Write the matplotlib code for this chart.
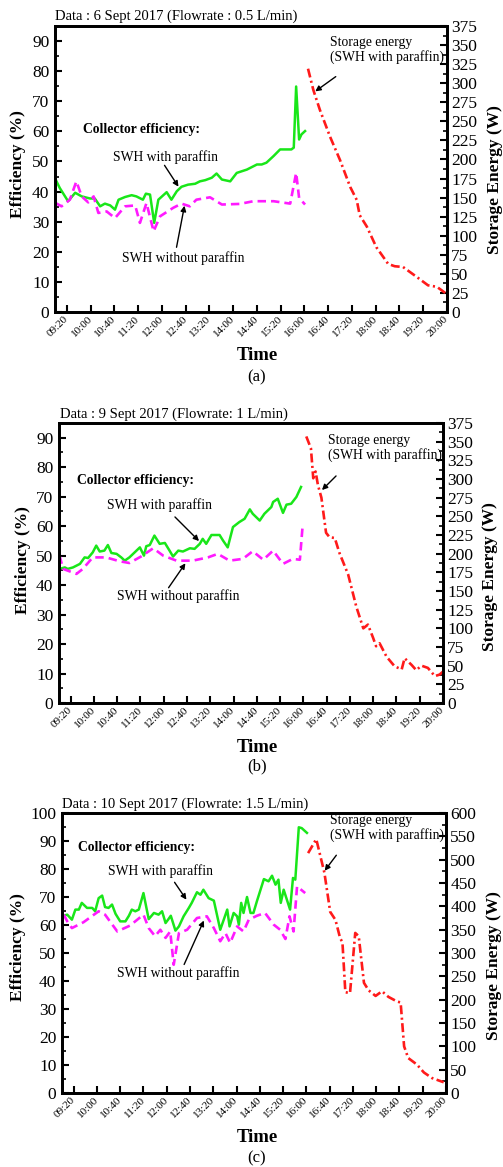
import matplotlib
matplotlib.use("Agg")
import matplotlib.pyplot as plt
from matplotlib.ticker import MultipleLocator

plt.rcParams['font.family'] = ['Liberation Serif', 'DejaVu Serif']
plt.rcParams['mathtext.fontset'] = 'stix'

W, H = 503, 1167

# ---------------- data ----------------
tick_labels = ["09:20", "10:00", "10:40", "11:20", "12:00", "12:40", "13:20", "14:00",
               "14:40", "15:20", "16:00", "16:40", "17:20", "18:00", "18:40", "19:20", "20:00"]

# Panel (a) 6 Sept 2017, 0.5 L/min
a_with_t = ["09:01", "09:08", "09:22", "09:34", "09:45", "09:59", "10:07", "10:16", "10:24", "10:33",
            "10:41", "10:47", "10:58", "11:09", "11:17", "11:28", "11:33", "11:40", "11:47", "11:54",
            "12:08", "12:16", "12:25", "12:33", "12:44", "12:56", "13:04", "13:13", "13:24", "13:32",
            "13:41", "13:55", "14:06", "14:23", "14:40", "14:48", "14:56", "15:08", "15:19", "15:38",
            "15:42", "15:46", "15:51", "15:55", "16:01"]
a_with_v = [44.0, 41.2, 36.8, 39.6, 38.4, 37.7, 37.7, 35.1, 36.0, 35.4,
            34.0, 37.3, 38.2, 38.8, 38.4, 37.3, 39.3, 39.0, 29.6, 37.3,
            39.8, 37.3, 40.1, 41.6, 42.3, 42.6, 43.4, 43.8, 44.6, 46.0,
            44.0, 43.4, 46.2, 47.3, 49.0, 49.0, 49.6, 51.8, 54.0, 54.0,
            54.6, 74.9, 57.3, 59.0, 60.1]
a_without_t = ["09:01", "09:11", "09:25", "09:36", "09:45", "09:56", "10:05", "10:13", "10:27", "10:41",
               "10:58", "11:15", "11:23", "11:34", "11:46", "11:57", "12:19", "12:33", "12:47", "12:58",
               "13:21", "13:41", "14:11", "14:34", "15:08", "15:36", "15:46", "15:51", "16:01"]
a_without_v = [36.2, 35.1, 37.3, 43.4, 38.4, 36.4, 38.4, 32.9, 33.4, 31.2,
               35.1, 35.4, 29.6, 36.2, 26.8, 31.8, 34.6, 36.0, 35.1, 37.3,
               38.1, 35.7, 35.9, 36.8, 36.8, 36.0, 46.2, 37.9, 35.7]
a_store_t = ["16:06", "16:15", "16:26", "16:43", "17:00", "17:17", "17:28", "17:33", "17:45", "18:01",
             "18:21", "18:32", "18:46", "19:09", "19:28", "19:43", "19:57"]
a_store_v = [319, 291, 265, 230, 199, 164, 147, 127, 112, 85, 63, 60, 59, 46, 35, 33, 25]

# Panel (b) 9 Sept 2017, 1 L/min
b_with_t = ["09:01", "09:10", "09:15", "09:24", "09:36", "09:44", "09:50", "09:58", "10:04", "10:10",
            "10:18", "10:24", "10:30", "10:39", "10:47", "10:53", "11:01", "11:10", "11:19", "11:26",
            "11:30", "11:36", "11:44", "11:53", "12:02", "12:10", "12:16", "12:25", "12:33", "12:45",
            "12:53", "13:02", "13:07", "13:13", "13:22", "13:36", "13:42", "13:50", "13:59", "14:10",
            "14:19", "14:28", "14:33", "14:45", "14:53", "15:05", "15:08", "15:16", "15:25", "15:31",
            "15:39", "15:48", "15:56"]
b_with_v = [45.5, 46.0, 45.5, 46.0, 47.2, 49.4, 49.2, 51.1, 53.4, 51.4,
            51.7, 53.6, 50.9, 50.6, 49.4, 48.3, 49.4, 51.1, 52.8, 50.0,
            53.2, 53.6, 56.8, 54.0, 54.3, 51.7, 49.7, 51.7, 51.4, 52.5,
            52.3, 54.0, 55.7, 54.0, 57.0, 57.0, 55.1, 52.8, 59.7, 61.4,
            62.5, 65.7, 64.2, 61.9, 64.2, 66.5, 68.2, 69.3, 64.5, 67.3,
            67.6, 69.9, 73.3]
b_without_t = ["09:01", "09:07", "09:30", "09:41", "09:58", "10:21", "10:44", "11:01", "11:21", "11:42",
               "11:59", "12:22", "12:50", "13:16", "13:33", "13:53", "14:16", "14:33", "14:51", "15:08",
               "15:25", "15:42", "15:54", "15:59"]
b_without_v = [50.0, 45.5, 43.8, 45.5, 49.4, 49.4, 48.1, 47.5, 49.7, 52.5,
               50.0, 48.3, 48.3, 49.4, 50.6, 48.3, 48.9, 51.5, 48.6, 51.7,
               47.2, 48.9, 48.6, 60.8]
b_store_t = ["16:05", "16:13", "16:17", "16:21", "16:25", "16:31", "16:39", "16:45", "16:54", "17:02",
             "17:17", "17:31", "17:43", "17:51", "18:00", "18:05", "18:11", "18:23", "18:37", "18:49",
             "18:54", "19:06", "19:14", "19:23", "19:34", "19:46", "19:54", "20:00"]
b_store_v = [357, 341, 301, 310, 292, 275, 228, 222, 221, 201,
             172, 129, 100, 105, 87, 76, 80, 62, 49, 45,
             60, 51, 44, 50, 47, 36, 38, 42]

# Panel (c) 10 Sept 2017, 1.5 L/min
c_with_t = ["09:03", "09:09", "09:17", "09:23", "09:29", "09:34", "09:43", "09:52", "09:57", "10:03",
            "10:09", "10:14", "10:20", "10:26", "10:32", "10:40", "10:49", "10:55", "11:00", "11:06",
            "11:12", "11:20", "11:29", "11:38", "11:46", "11:52", "11:58", "12:03", "12:07", "12:15",
            "12:21", "12:29", "12:38", "12:43", "12:52", "12:58", "13:03", "13:12", "13:21", "13:32",
            "13:44", "13:48", "13:55", "14:01", "14:04", "14:08", "14:12", "14:18", "14:24", "14:29",
            "14:35", "14:47", "14:55", "15:01", "15:07", "15:12", "15:16", "15:21", "15:32", "15:37",
            "15:41", "15:47", "15:52", "16:01"]
c_with_v = [63.3, 63.7, 61.9, 65.5, 65.5, 67.9, 66.1, 66.1, 64.9, 69.6,
            70.5, 66.4, 66.1, 67.3, 64.0, 61.3, 61.3, 63.3, 65.5, 64.9,
            65.5, 71.4, 62.1, 64.3, 63.7, 64.9, 60.7, 62.1, 63.3, 58.0,
            59.5, 63.1, 66.1, 67.9, 71.7, 70.8, 72.6, 69.6, 68.7, 58.3,
            65.5, 59.5, 64.3, 63.1, 60.1, 67.9, 64.3, 70.0, 64.3, 64.3,
            68.5, 76.4, 75.6, 77.6, 74.4, 76.2, 67.9, 72.6, 65.5, 76.8,
            76.2, 94.9, 94.6, 92.9]
c_without_t = ["09:03", "09:09", "09:17", "09:37", "10:03", "10:14", "10:35", "10:57", "11:20", "11:29",
               "11:40", "11:49", "11:58", "12:06", "12:12", "12:21", "12:35", "12:52", "13:09", "13:21",
               "13:32", "13:41", "13:49", "14:01", "14:12", "14:21", "14:35", "14:49", "15:04", "15:15",
               "15:24", "15:31", "15:38", "15:44", "15:58"]
c_without_v = [63.7, 61.3, 58.9, 61.0, 64.9, 63.7, 57.7, 59.8, 63.7, 58.9,
               56.0, 58.3, 55.4, 57.7, 45.8, 57.1, 58.3, 62.5, 63.1, 58.9,
               54.2, 57.1, 53.6, 59.5, 57.7, 61.9, 63.3, 64.3, 60.1, 58.3,
               55.0, 63.1, 57.7, 73.8, 71.4]
c_store_t = ["16:03", "16:17", "16:31", "16:41", "16:50", "16:58", "17:02", "17:07", "17:15", "17:24",
             "17:30", "17:39", "17:47", "17:59", "18:10", "18:21", "18:36", "18:42", "18:48", "18:55",
             "19:10", "19:22", "19:36", "19:56"]
c_store_v = [514, 544, 472, 388, 371, 332, 323, 216, 214, 343,
             336, 236, 220, 208, 218, 206, 196, 194, 100, 75,
             61, 44, 32, 23]

titles = ["Data : 6 Sept 2017 (Flowrate : 0.5 L/min)",
          "Data : 9 Sept 2017 (Flowrate: 1 L/min)",
          "Data : 10 Sept 2017 (Flowrate: 1.5 L/min)"]
panel_tags = ["(a)", "(b)", "(c)"]


def tmin(s):
    h, m = s.split(":")
    return int(h) * 60 + int(m)


def mins(lst):
    return [tmin(s) for s in lst]


GREEN = '#19e619'
MAGENTA = '#ff1aff'
RED = '#ff1a1a'

fig = plt.figure(figsize=(W / 100, H / 100), dpi=100)


def fx(x):
    return x / W


def fy(y):
    return 1 - y / H


panels = [
    dict(box=(55, 26, 447, 312), ylim=95, y2lim=375, y2maj=25, y2min=12.5,
         with_=(a_with_t, a_with_v), without=(a_without_t, a_without_v), store=(a_store_t, a_store_v),
         title_xy=(55, 16), effl=(18, 164), stol=(495, 180), time_y=356, tag_y=377,
         coll=(83, 130), with_txt=(113, 157), with_arr=((163, 163), (180, 189)),
         wo_txt=(122, 258), wo_arr=((176, 250), (185, 203)),
         st_txt=(330, 50), st_arr=((338, 75), (313, 93))),
    dict(box=(59, 423, 443, 703), ylim=95, y2lim=375, y2maj=25, y2min=12.5,
         with_=(b_with_t, b_with_v), without=(b_without_t, b_without_v), store=(b_store_t, b_store_v),
         title_xy=(60, 414), effl=(23, 560), stol=(490, 577), time_y=747, tag_y=766,
         coll=(77, 480), with_txt=(107, 505), with_arr=((173, 515), (201, 543)),
         wo_txt=(117, 596), wo_arr=((167, 590), (187, 561)),
         st_txt=(328, 448), st_arr=((338, 474), (320, 492))),
    dict(box=(62, 813, 446, 1093), ylim=100, y2lim=600, y2maj=50, y2min=25,
         with_=(c_with_t, c_with_v), without=(c_without_t, c_without_v), store=(c_store_t, c_store_v),
         title_xy=(62, 804), effl=(18, 947), stol=(494, 966), time_y=1137, tag_y=1158,
         coll=(78, 847), with_txt=(108, 871), with_arr=((173, 880), (188, 902)),
         wo_txt=(117, 973), wo_arr=((183, 967), (205, 918)),
         st_txt=(330, 828), st_arr=((338, 853), (323, 873))),
]

tick_pos = mins(tick_labels)
TS = 9.8

for i, p in enumerate(panels):
    l, t, r, b = p['box']
    ax = fig.add_axes([fx(l), fy(b), (r - l) / W, (b - t) / H])
    ax2 = ax.twinx()

    wt, wv = p['with_']
    ot, ov = p['without']
    st, sv = p['store']
    ax.plot(mins(wt), wv, color=GREEN, lw=1.8, solid_joinstyle='round')
    ax.plot(mins(ot), ov, color=MAGENTA, lw=1.9, linestyle=(0, (3.2, 1.9)))
    ax2.plot(mins(st), sv, color=RED, lw=1.9, linestyle=(0, (3.4, 1.3, 0.8, 1.3)))

    ax.set_xlim(540, 1200)
    ax.set_ylim(0, p['ylim'])
    ax2.set_ylim(0, p['y2lim'])

    ax.set_xticks(tick_pos)
    ax.set_xticklabels(tick_labels, rotation=45, ha='right', va='center',
                       rotation_mode='anchor', fontsize=8)
    ax.yaxis.set_major_locator(MultipleLocator(10))
    ax.yaxis.set_minor_locator(MultipleLocator(5))
    ax2.yaxis.set_major_locator(MultipleLocator(p['y2maj']))
    ax2.yaxis.set_minor_locator(MultipleLocator(p['y2min']))

    ax.tick_params(axis='both', which='major', direction='in', length=5, width=1.5,
                   labelsize=12.5, top=False, right=False)
    ax.tick_params(axis='x', labelsize=8, pad=4)
    ax.tick_params(axis='y', pad=4)
    ax.tick_params(axis='y', which='minor', direction='in', length=3, width=1.2)
    ax2.tick_params(axis='y', which='major', direction='in', length=5, width=1.5,
                    labelsize=12.5, pad=3)
    ax2.tick_params(axis='y', which='minor', direction='in', length=3, width=1.2)

    for a in (ax, ax2):
        for sp in a.spines.values():
            sp.set_linewidth(2)

    # titles and labels
    fig.text(fx(p['title_xy'][0]), fy(p['title_xy'][1]), titles[i], ha='left', va='center',
             fontsize=10.5)
    fig.text(fx(p['effl'][0]), fy(p['effl'][1]), "Efficiency (%)", rotation=90, ha='center',
             va='center', fontsize=12.5, fontweight='bold')
    fig.text(fx(p['stol'][0]), fy(p['stol'][1]), "Storage Energy (W)", rotation=90, ha='center',
             va='center', fontsize=12.5, fontweight='bold')
    fig.text(fx(257), fy(p['time_y']), "Time", ha='center', va='center', fontsize=13.5,
             fontweight='bold')
    fig.text(fx(257), fy(p['tag_y']), panel_tags[i], ha='center', va='center', fontsize=12)

    # annotations
    fig.text(fx(p['coll'][0]), fy(p['coll'][1]), "Collector efficiency:", ha='left', va='center',
             fontsize=TS, fontweight='bold')
    fig.text(fx(p['with_txt'][0]), fy(p['with_txt'][1]), "SWH with paraffin", ha='left',
             va='center', fontsize=TS)
    fig.text(fx(p['wo_txt'][0]), fy(p['wo_txt'][1]), "SWH without paraffin", ha='left',
             va='center', fontsize=TS)
    fig.text(fx(p['st_txt'][0]), fy(p['st_txt'][1]), "Storage energy\n(SWH with paraffin)",
             ha='left', va='center', fontsize=TS, linespacing=1.15)
    for (x0, y0), (x1, y1) in (p['with_arr'], p['wo_arr'], p['st_arr']):
        fig.add_artist(matplotlib.patches.FancyArrowPatch(
            (fx(x0), fy(y0)), (fx(x1), fy(y1)), transform=fig.transFigure,
            arrowstyle='-|>', mutation_scale=8, color='black', lw=1.0))

fig.savefig("out.png", dpi=100)
